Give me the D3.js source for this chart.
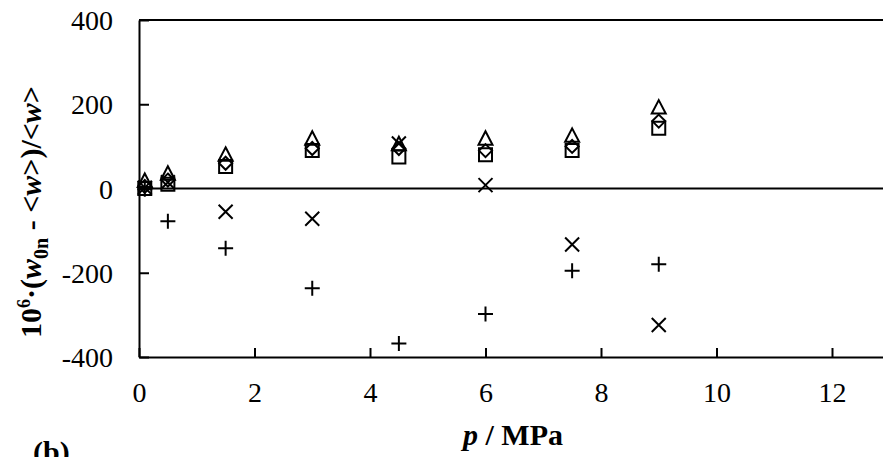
<!DOCTYPE html>
<html>
<head>
<meta charset="utf-8">
<script src="https://cdn.jsdelivr.net/npm/d3@7"></script>
<style>
  body { margin: 0; background: #fff; }
  svg { display: block; }
</style>
</head>
<body>
<svg id="chart" width="883" height="457"></svg>
<script>
const serif = '"Liberation Serif", "Times New Roman", Times, serif';

// pressures in MPa
const pressures = [0.1, 0.5, 1.5, 3.0, 4.5, 6.0, 7.5, 9.0];

// 10^6 (w0n - <w>)/<w> for each set
const triangleVals = [18, 35, 80, 118, 105, 118, 125, 192];
const diamondVals  = [5, 20, 60, 95, 95, 90, 100, 160];
const squareVals   = [0, 10, 52, 90, 75, 80, 90, 143];
const crossVals    = [2, 15, -55, -72, 107, 8, -133, -324];
const plusVals     = [-2, -78, -142, -237, -368, -298, -195, -180];

const xTicks = [0, 2, 4, 6, 8, 10, 12];
const yTicks = [-400, -200, 0, 200, 400];

const svg = d3.select('#chart');
const plotLeft = 139, plotTop = 20, plotBottom = 357;

const x = d3.scaleLinear().domain([0, 13]).range([plotLeft, plotLeft + 13 * 57.75]);
const y = d3.scaleLinear().domain([-400, 400]).range([plotBottom, plotTop]);

// axes with inward ticks, plain hyphen for negatives
const xAxis = svg.append('g')
  .attr('transform', `translate(0,${plotBottom})`)
  .call(d3.axisBottom(x).tickValues(xTicks).tickFormat(d => String(d))
    .tickSizeInner(-9).tickSizeOuter(0).tickPadding(25));
const yAxis = svg.append('g')
  .attr('transform', `translate(${plotLeft},0)`)
  .call(d3.axisLeft(y).tickValues(yTicks).tickFormat(d => String(d))
    .tickSizeInner(-10).tickSizeOuter(0).tickPadding(26));

[xAxis, yAxis].forEach(g => {
  g.attr('font-family', serif).attr('font-size', 28);
  g.select('.domain').attr('stroke', '#000').attr('stroke-width', 2);
  g.selectAll('.tick line').attr('stroke', '#000').attr('stroke-width', 2);
  g.selectAll('.tick text').attr('fill', '#000');
});
yAxis.selectAll('.tick text').attr('dy', '0.34em');
xAxis.selectAll('.tick text').attr('dy', '0.71em');

// top frame line and zero line
svg.append('line')
  .attr('x1', plotLeft).attr('x2', 883).attr('y1', y(400)).attr('y2', y(400))
  .attr('stroke', '#000').attr('stroke-width', 2);
svg.append('line')
  .attr('x1', plotLeft).attr('x2', 883).attr('y1', y(0)).attr('y2', y(0))
  .attr('stroke', '#000').attr('stroke-width', 2);

const marks = svg.append('g').attr('fill', 'none').attr('stroke', '#000').attr('stroke-width', 2);

function draw(vals, pathFn) {
  marks.append('g').selectAll('path')
    .data(vals)
    .join('path')
    .attr('transform', (d, i) => `translate(${x(pressures[i])},${y(d)})`)
    .attr('d', pathFn);
}

draw(squareVals, () => 'M-6.5,-6.5H6.5V6.5H-6.5Z');
draw(diamondVals, () => 'M0,-6.5L6.5,0L0,6.5L-6.5,0Z');
draw(triangleVals, () => 'M0,-7.5L7,6H-7Z');
draw(crossVals, () => 'M-7,-7L7,7M-7,7L7,-7');
draw(plusVals, () => 'M-7.5,0H7.5M0,-7.5V7.5');

// axis titles
const yl = svg.append('text')
  .attr('transform', 'translate(41,212) rotate(-90)')
  .attr('text-anchor', 'middle')
  .style('font-family', serif)
  .style('font-size', '30px')
  .style('font-weight', 'bold');
yl.append('tspan').text('10');
yl.append('tspan').text('6').style('font-size', '18px').attr('dy', -11);
yl.append('tspan').text('·(').attr('dy', 11);
yl.append('tspan').text('w').style('font-style', 'italic');
yl.append('tspan').text('0n').style('font-size', '20px').attr('dy', 7);
yl.append('tspan').text(' - <').attr('dy', -7);
yl.append('tspan').text('w').style('font-style', 'italic');
yl.append('tspan').text('>)/<');
yl.append('tspan').text('w').style('font-style', 'italic');
yl.append('tspan').text('>');

const xl = svg.append('text')
  .attr('x', 513).attr('y', 445)
  .attr('text-anchor', 'middle')
  .style('font-family', serif)
  .style('font-size', '30px')
  .style('font-weight', 'bold');
xl.append('tspan').text('p').style('font-style', 'italic');
xl.append('tspan').text(' / MPa');

// panel tag, cut by the bottom edge as in the source figure
svg.append('text')
  .attr('x', 33).attr('y', 462)
  .style('font-family', serif)
  .style('font-size', '30px')
  .style('font-weight', 'bold')
  .text('(b)');
</script>
</body>
</html>
